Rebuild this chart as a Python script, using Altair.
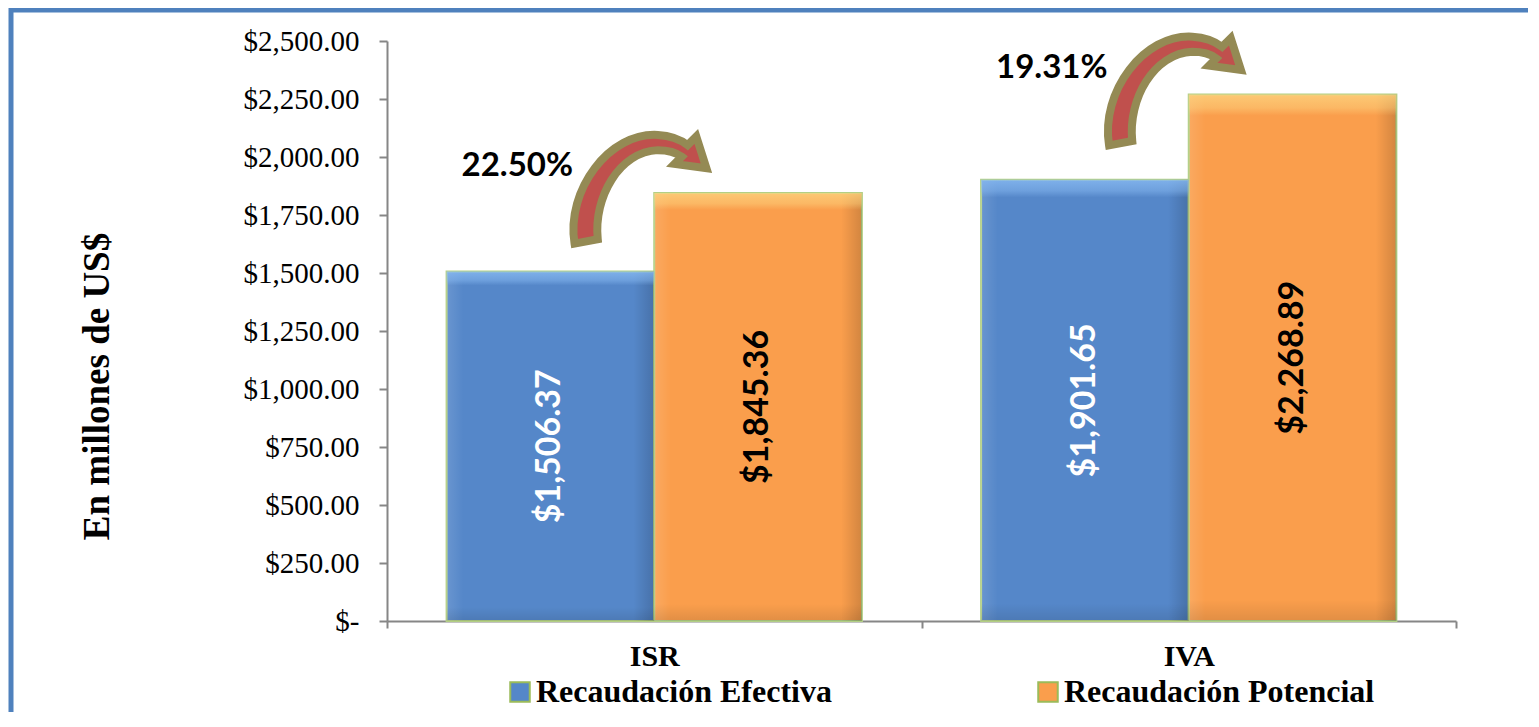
import altair as alt
import pandas as pd

categories = ["ISR", "IVA"]
series = ["Recaudación Efectiva", "Recaudación Potencial"]
efectiva = [1506.37, 1901.65]
potencial = [1845.36, 2268.89]
pct_change = [22.50, 19.31]

rows = []
for i, c in enumerate(categories):
    rows.append({"cat": c, "serie": series[0], "valor": efectiva[i]})
    rows.append({"cat": c, "serie": series[1], "valor": potencial[i]})
df = pd.DataFrame(rows)

df_pct = pd.DataFrame({"cat": categories, "potencial": potencial, "pct": pct_change})
df_frame = pd.DataFrame({"k": [1]})

PLOT_W, PLOT_H = 1069, 580
SERIF = "Liberation Serif"

x_enc = alt.X("cat:N", sort=categories,
              scale=alt.Scale(paddingInner=0, paddingOuter=0),
              axis=alt.Axis(title=None, tickBand="extent", labelAngle=0,
                            labelFont=SERIF, labelFontWeight="bold",
                            labelFontSize=30, labelColor="black", labelPadding=13,
                            domainColor="#868686", domainWidth=2, tickColor="#868686",
                            tickWidth=2, tickSize=7))
xoff = alt.XOffset("serie:N", sort=series,
                   scale=alt.Scale(paddingInner=0, paddingOuter=0.287))
y_scale = alt.Scale(domain=[0, 2500], nice=False)

y_enc = alt.Y("valor:Q", scale=y_scale,
              axis=alt.Axis(title="En millones de US$", values=list(range(0, 2501, 250)),
                            grid=False,
                            labelExpr="datum.value == 0 ? '$-        ' : '$' + format(datum.value, ',.2f')",
                            labelFont=SERIF, labelFontSize=29, labelColor="black",
                            labelPadding=20,
                            domainColor="#868686", domainWidth=2, tickColor="#868686",
                            tickWidth=2, tickSize=8,
                            titleFont=SERIF, titleFontWeight="bold",
                            titleFontSize=37, titleColor="black",
                            titleX=-290, titleY=345, titleAngle=270,
                            titleBaseline="middle", titleAlign="center"))

bars = alt.Chart(df).mark_bar(stroke="#b3cf85", strokeWidth=2).encode(
    x=x_enc, xOffset=xoff, y=y_enc,
    color=alt.Color("serie:N", sort=series,
                    scale=alt.Scale(domain=series, range=["#5587c9", "#fa9e4c"]),
                    legend=alt.Legend(title=None, orient="none", legendX=117, legendY=635,
                                      direction="horizontal", symbolType="square",
                                      symbolSize=380, symbolStrokeColor="#9bbb59",
                                      symbolStrokeWidth=2, symbolOpacity=1,
                                      labelFont=SERIF, labelFontWeight="bold",
                                      labelFontSize=32, labelColor="black", labelOffset=0,
                                      columnPadding=200, labelLimit=500)),
)

shade_h = alt.Chart(df).mark_bar(
    color=alt.Gradient(gradient="linear", x1=0, y1=0, x2=1, y2=0, stops=[
        alt.GradientStop(offset=0, color="rgba(255,255,255,0.12)"),
        alt.GradientStop(offset=0.08, color="rgba(255,255,255,0)"),
        alt.GradientStop(offset=0.9, color="rgba(0,0,0,0)"),
        alt.GradientStop(offset=1, color="rgba(0,0,0,0.16)"),
    ])).encode(x=alt.X("cat:N", sort=categories), xOffset=xoff, y=alt.Y("valor:Q", scale=y_scale))


def top_shade(serie, tint):
    return alt.Chart(df).transform_filter(alt.datum.serie == serie).mark_bar(
        color=alt.Gradient(gradient="linear", x1=0, y1=0, x2=0, y2=1, stops=[
            alt.GradientStop(offset=0, color=f"rgba({tint},0.75)"),
            alt.GradientStop(offset=0.025, color=f"rgba({tint},0.45)"),
            alt.GradientStop(offset=0.04, color=f"rgba({tint},0)"),
            alt.GradientStop(offset=0.96, color="rgba(0,0,0,0)"),
            alt.GradientStop(offset=1, color="rgba(0,0,0,0.10)"),
        ])).encode(x=alt.X("cat:N", sort=categories), xOffset=xoff,
                   y=alt.Y("valor:Q", scale=y_scale))


shade_blue = top_shade(series[0], "140,190,245")
shade_orange = top_shade(series[1], "253,215,130")

labels = alt.Chart(df).transform_calculate(
    half="datum.valor / 2",
    txt="'$' + format(datum.valor, ',.2f')",
).mark_text(angle=270, font="Lato", fontWeight="bold", fontSize=34,
            align="center", baseline="middle").encode(
    x=alt.X("cat:N", sort=categories), xOffset=xoff,
    y=alt.Y("half:Q", scale=y_scale),
    text="txt:N",
    color=alt.condition(alt.datum.serie == series[0], alt.value("white"), alt.value("black")),
)

pct_text = alt.Chart(df_pct).transform_calculate(
    txt="format(datum.pct, '.2f') + '%'"
).mark_text(font="Lato", fontWeight="bold", fontSize=33, color="black",
            align="center", baseline="middle", dx=-137, dy=-27).encode(
    x=alt.X("cat:N", sort=categories),
    y=alt.Y("potencial:Q", scale=y_scale),
    text="txt:N",
)

arrow_path = ("M -1.1 0.7 C -1.22 -0.04 -0.62 -0.84 0.05 -0.8 C 0.25 -0.79 0.37 -0.73 0.46 -0.66 "
              "L 0.58 -0.78 L 0.72 -0.34 L 0.28 -0.4 L 0.38 -0.5 C 0.3 -0.56 0.18 -0.59 0.05 -0.59 "
              "C -0.48 -0.57 -0.84 0.06 -0.78 0.64 Z")
arrows = alt.Chart(df_pct).mark_point(shape=arrow_path, filled=True, fill="#c0504d",
                                      stroke="#948a54", strokeWidth=8, opacity=1,
                                      fillOpacity=1, strokeOpacity=1, size=21000).encode(
    x=alt.X("cat:N", sort=categories),
    y=alt.Y("potencial:Q", scale=y_scale),
)

frame = alt.Chart(df_frame).mark_rect(fill="transparent", stroke="#4f81bd", strokeWidth=5,
                                      clip=False).encode(
    x=alt.value(-376), x2=alt.value(PLOT_W + 400),
    y=alt.value(-31), y2=alt.value(PLOT_H + 400),
)

chart = alt.layer(frame, bars, shade_h, shade_blue, shade_orange, labels, arrows,
                  pct_text).properties(
    width=PLOT_W, height=PLOT_H,
    padding={"left": 379, "top": 33, "right": 72, "bottom": 91},
    autosize=alt.AutoSizeParams(type="none"),
    background="white",
).configure_view(stroke=None).configure_legend(
    labelFont=SERIF, labelFontWeight="bold", labelFontSize=32, labelColor="black"
)

chart.save("out.html", embed_options={"renderer": "svg", "actions": False})
